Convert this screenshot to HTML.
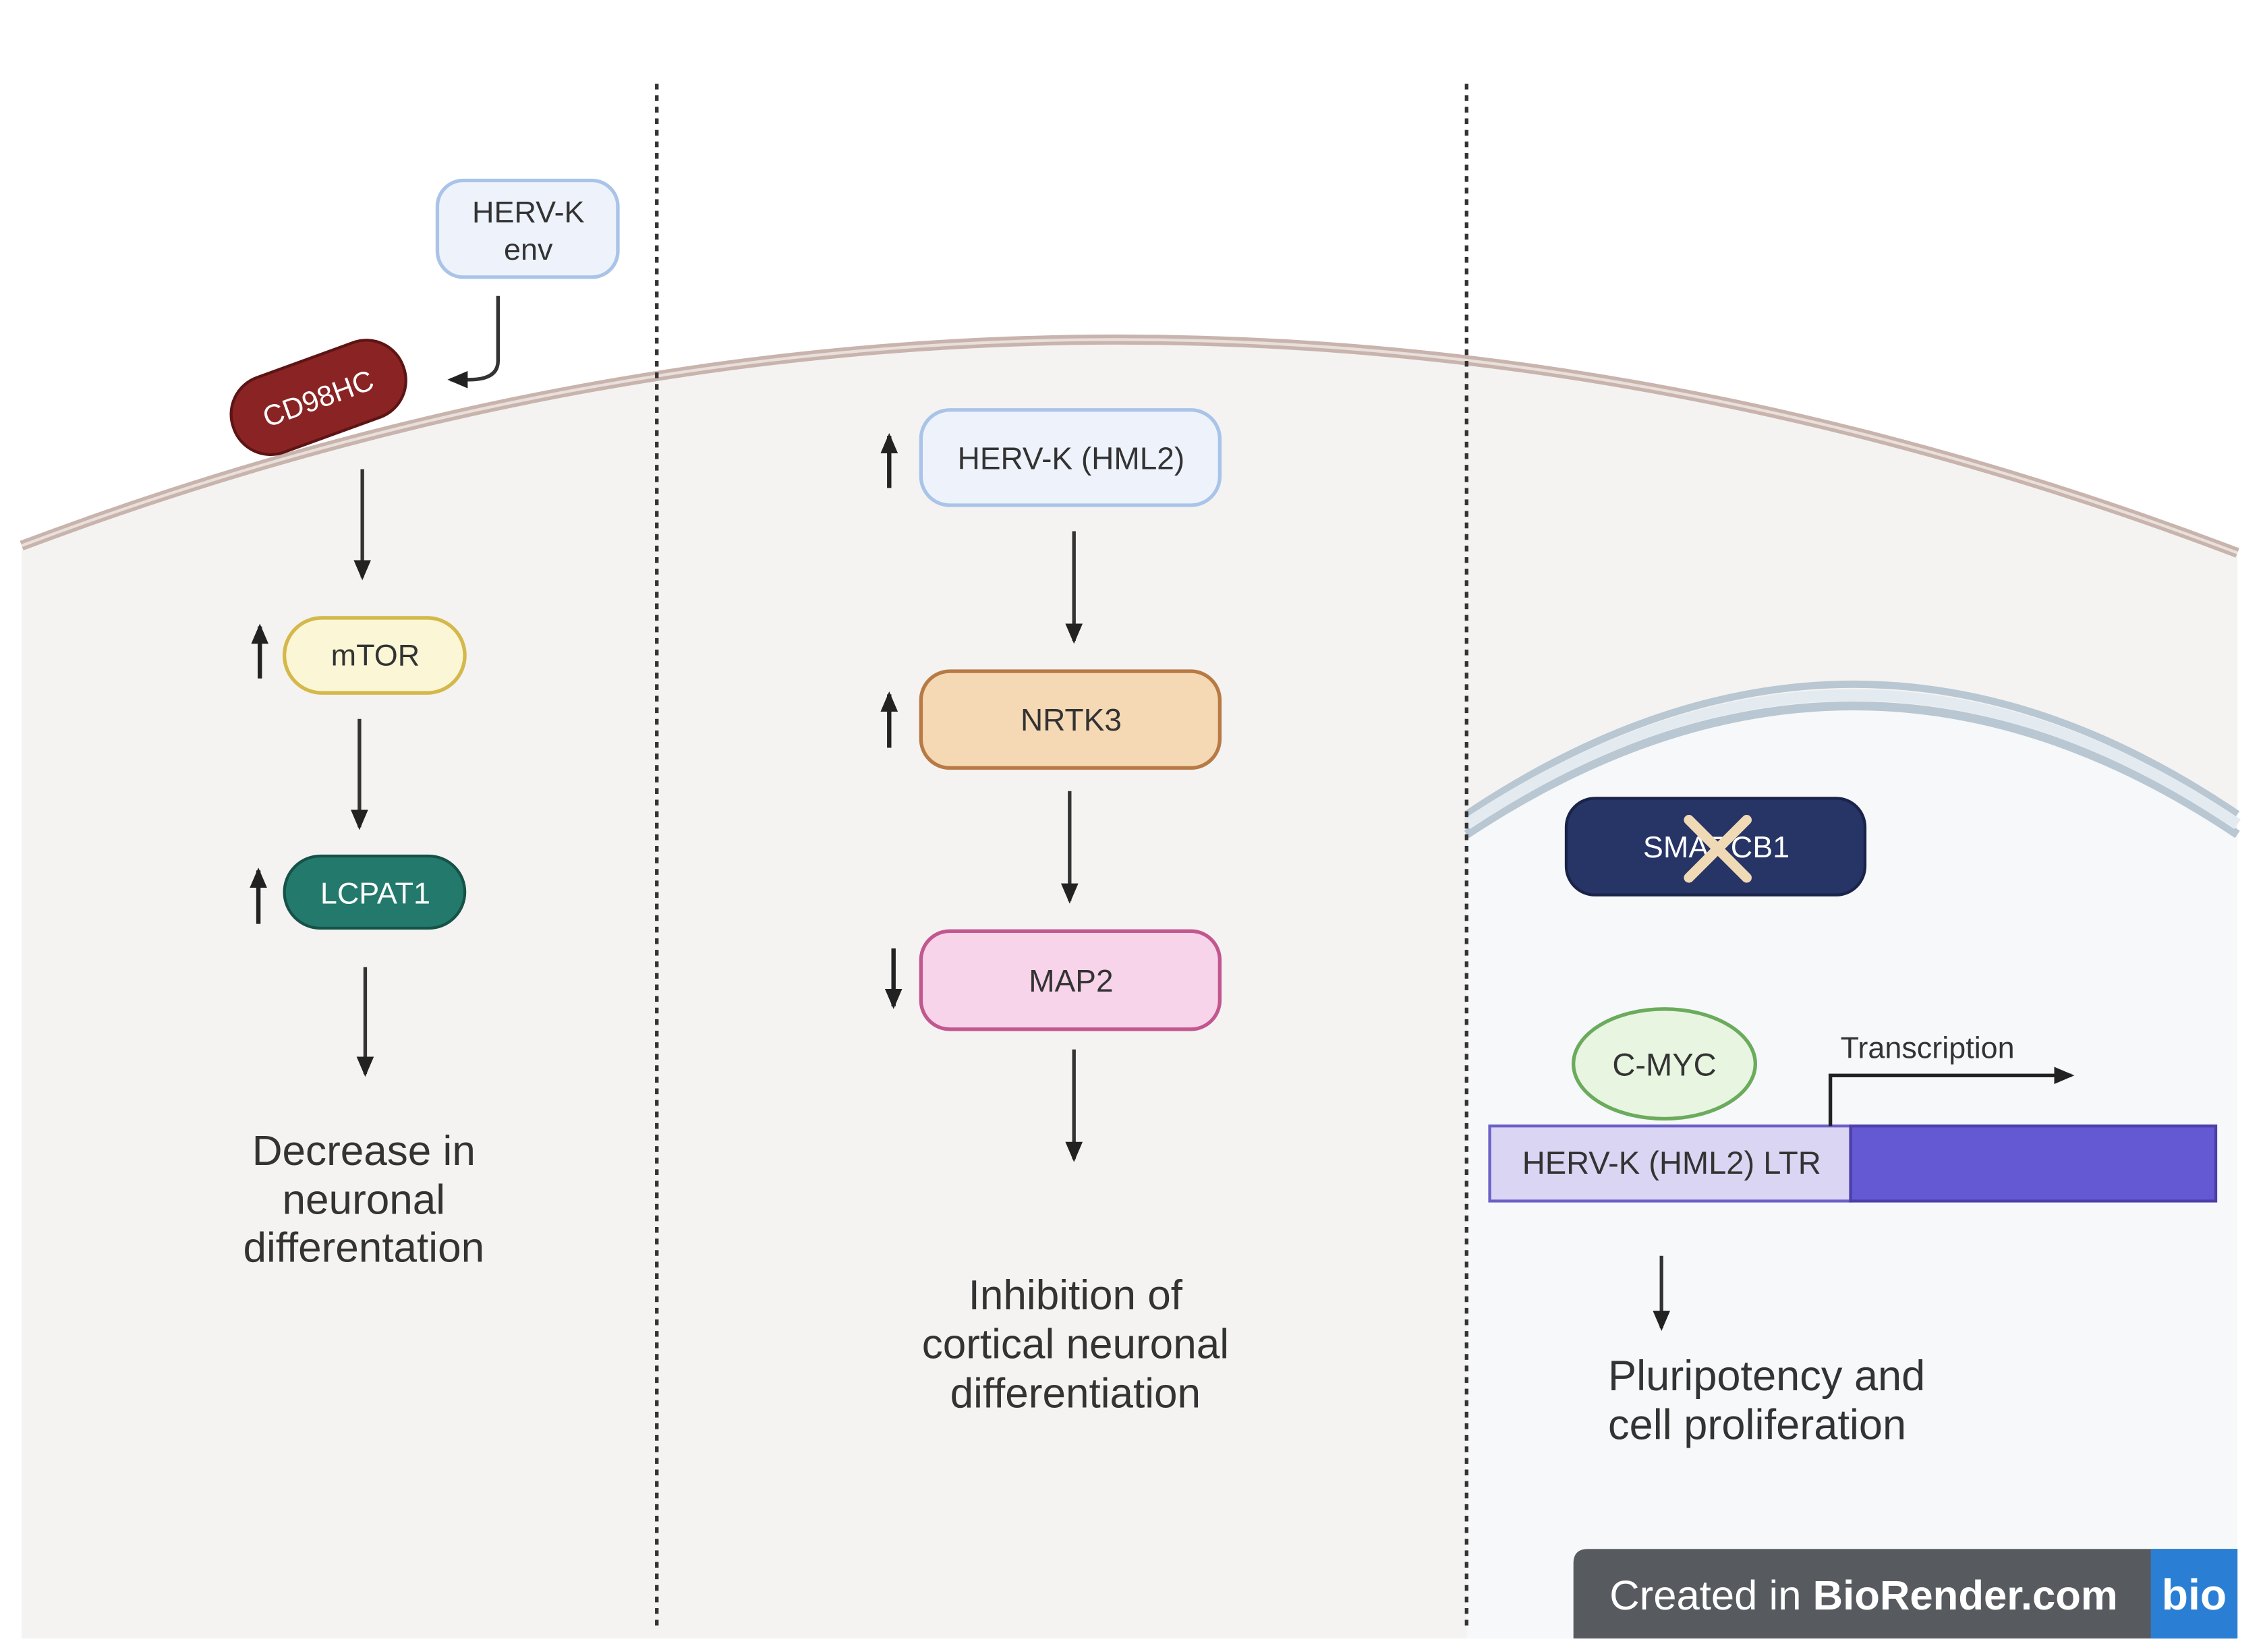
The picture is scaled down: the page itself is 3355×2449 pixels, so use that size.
<!DOCTYPE html>
<html><head><meta charset="utf-8"><style>
html,body{margin:0;padding:0;background:#fff;}
svg{display:block;}
text{font-family:"Liberation Sans",sans-serif;}
</style></head><body>
<svg width="3355" height="2449" viewBox="0 0 1567.7 1144.4" preserveAspectRatio="none" xmlns="http://www.w3.org/2000/svg">
<defs>
<marker id="ah2" markerWidth="14" markerHeight="12" refX="12" refY="6" orient="auto" markerUnits="userSpaceOnUse">
<path d="M0,0 L14,6 L0,12 Z" fill="#222"/></marker>
</defs>
<rect width="1570" height="1150" fill="#fff"/>
<!-- cell -->
<path d="M15,378 Q780,90 1550,383 L1550,1135 L15,1135 Z" fill="#f4f3f2"/>
<path d="M15,378 Q780,90 1550,383" fill="none" stroke="#c8b4ad" stroke-width="7"/>
<path d="M15,378 Q780,90 1550,383" fill="none" stroke="#e9dfdb" stroke-width="2"/>
<!-- nucleus -->
<path d="M1016,578 Q1285,400 1550,578 L1550,1135 L1016,1135 Z" fill="#f6f8fa"/>
<path d="M1016,578 Q1285,400 1550,578" fill="none" stroke="#b8c7d2" stroke-width="6"/>
<path d="M1016,564 Q1285,384 1550,564" fill="none" stroke="#b8c7d2" stroke-width="5"/>
<path d="M1016,571 Q1285,392 1550,571" fill="none" stroke="#e4ebf0" stroke-width="8"/>
<!-- dashed lines -->
<line x1="455" y1="58" x2="455" y2="1130" stroke="#333" stroke-width="2.5" stroke-dasharray="4,4"/>
<line x1="1016" y1="58" x2="1016" y2="1130" stroke="#333" stroke-width="2.5" stroke-dasharray="4,4"/>

<!-- left column -->
<rect x="303" y="125" width="125" height="67" rx="18" fill="#eef3fb" stroke="#a9c4e8" stroke-width="2.5"/>
<text x="366" y="154" font-size="21" text-anchor="middle" fill="#333">HERV-K</text>
<text x="366" y="180" font-size="21" text-anchor="middle" fill="#333">env</text>
<path d="M345,205 L345,250 Q345,263 325,263 L312,263" fill="none" stroke="#333" stroke-width="2.5" marker-end="url(#ah2)"/>
<g transform="rotate(-20 220 275)">
<rect x="158" y="248" width="125" height="55" rx="27" fill="#8a2424" stroke="#5e1414" stroke-width="2"/>
<text x="220" y="283" font-size="20" text-anchor="middle" fill="#fff">CD98HC</text>
</g>
<line x1="251" y1="325" x2="251" y2="400" stroke="#333" stroke-width="2.5" marker-end="url(#ah2)"/>
<rect x="197" y="428" width="125" height="52" rx="26" fill="#fbf6d5" stroke="#d4b84a" stroke-width="2.5"/>
<text x="260" y="461" font-size="21" text-anchor="middle" fill="#333">mTOR</text>
<line x1="180" y1="470" x2="180" y2="434" stroke="#222" stroke-width="3" marker-end="url(#ah2)"/>
<line x1="249" y1="498" x2="249" y2="573" stroke="#333" stroke-width="2.5" marker-end="url(#ah2)"/>
<rect x="197" y="593" width="125" height="50" rx="25" fill="#237a6c" stroke="#155248" stroke-width="2"/>
<text x="260" y="626" font-size="21" text-anchor="middle" fill="#fff">LCPAT1</text>
<line x1="179" y1="640" x2="179" y2="603" stroke="#222" stroke-width="3" marker-end="url(#ah2)"/>
<line x1="253" y1="670" x2="253" y2="744" stroke="#333" stroke-width="2.5" marker-end="url(#ah2)"/>
<text font-size="29" text-anchor="middle" fill="#333"><tspan x="252" y="807">Decrease in</tspan><tspan x="252" y="841">neuronal</tspan><tspan x="252" y="874">differentation</tspan></text>

<!-- middle column -->
<rect x="638" y="284" width="207" height="66" rx="20" fill="#eef3fb" stroke="#a9c4e8" stroke-width="2.5"/>
<text x="742" y="325" font-size="21.5" text-anchor="middle" fill="#333">HERV-K (HML2)</text>
<line x1="616" y1="338" x2="616" y2="302" stroke="#222" stroke-width="3" marker-end="url(#ah2)"/>
<line x1="744" y1="368" x2="744" y2="444" stroke="#333" stroke-width="2.5" marker-end="url(#ah2)"/>
<rect x="638" y="465" width="207" height="67" rx="20" fill="#f5d9b5" stroke="#b87a45" stroke-width="2.5"/>
<text x="742" y="506" font-size="21.5" text-anchor="middle" fill="#333">NRTK3</text>
<line x1="616" y1="518" x2="616" y2="481" stroke="#222" stroke-width="3" marker-end="url(#ah2)"/>
<line x1="741" y1="548" x2="741" y2="624" stroke="#333" stroke-width="2.5" marker-end="url(#ah2)"/>
<rect x="638" y="645" width="207" height="68" rx="20" fill="#f7d4ea" stroke="#c2578f" stroke-width="2.5"/>
<text x="742" y="687" font-size="21.5" text-anchor="middle" fill="#333">MAP2</text>
<line x1="619" y1="657" x2="619" y2="697" stroke="#222" stroke-width="3" marker-end="url(#ah2)"/>
<line x1="744" y1="727" x2="744" y2="803" stroke="#333" stroke-width="2.5" marker-end="url(#ah2)"/>
<text font-size="29" text-anchor="middle" fill="#333"><tspan x="745" y="907">Inhibition of</tspan><tspan x="745" y="941">cortical neuronal</tspan><tspan x="745" y="975">differentiation</tspan></text>

<!-- right column -->
<rect x="1085" y="553" width="207" height="67" rx="20" fill="#263466" stroke="#1a2348" stroke-width="2"/>
<text x="1189" y="594" font-size="21" text-anchor="middle" fill="#fff">SMARCB1</text>
<path d="M1170,568 L1210,608 M1210,568 L1170,608" stroke="#f0d9b5" stroke-width="7" stroke-linecap="round"/>
<ellipse cx="1153" cy="737" rx="63" ry="38" fill="#e7f5e1" stroke="#6bab5c" stroke-width="2.5"/>
<text x="1153" y="745" font-size="22" text-anchor="middle" fill="#333">C-MYC</text>
<rect x="1032" y="780" width="250" height="52" fill="#d9d5f2" stroke="#6b5fc7" stroke-width="2"/>
<rect x="1282" y="780" width="253" height="52" fill="#6458d3" stroke="#4b40a8" stroke-width="2"/>
<text x="1158" y="813" font-size="22" text-anchor="middle" fill="#333">HERV-K (HML2) LTR</text>
<path d="M1268,780 L1268,745 L1435,745" fill="none" stroke="#222" stroke-width="2.5" marker-end="url(#ah2)"/>
<text x="1275" y="733" font-size="21" fill="#333">Transcription</text>
<line x1="1151" y1="870" x2="1151" y2="920" stroke="#333" stroke-width="2.5" marker-end="url(#ah2)"/>
<text font-size="29.5" fill="#333"><tspan x="1114" y="963">Pluripotency and</tspan><tspan x="1114" y="997">cell proliferation</tspan></text>

<!-- badge -->
<path d="M1100,1073 L1550,1073 L1550,1135 L1090,1135 L1090,1083 Q1090,1073 1100,1073 Z" fill="#575b60"/>
<rect x="1490" y="1073" width="60" height="62" fill="#2a7fd4"/>
<text x="1115" y="1115" font-size="28.8" fill="#fff">Created in <tspan font-weight="bold">BioRender.com</tspan></text>
<text x="1520" y="1115" font-size="30" font-weight="bold" text-anchor="middle" fill="#fff">bio</text>
</svg>
</body></html>
